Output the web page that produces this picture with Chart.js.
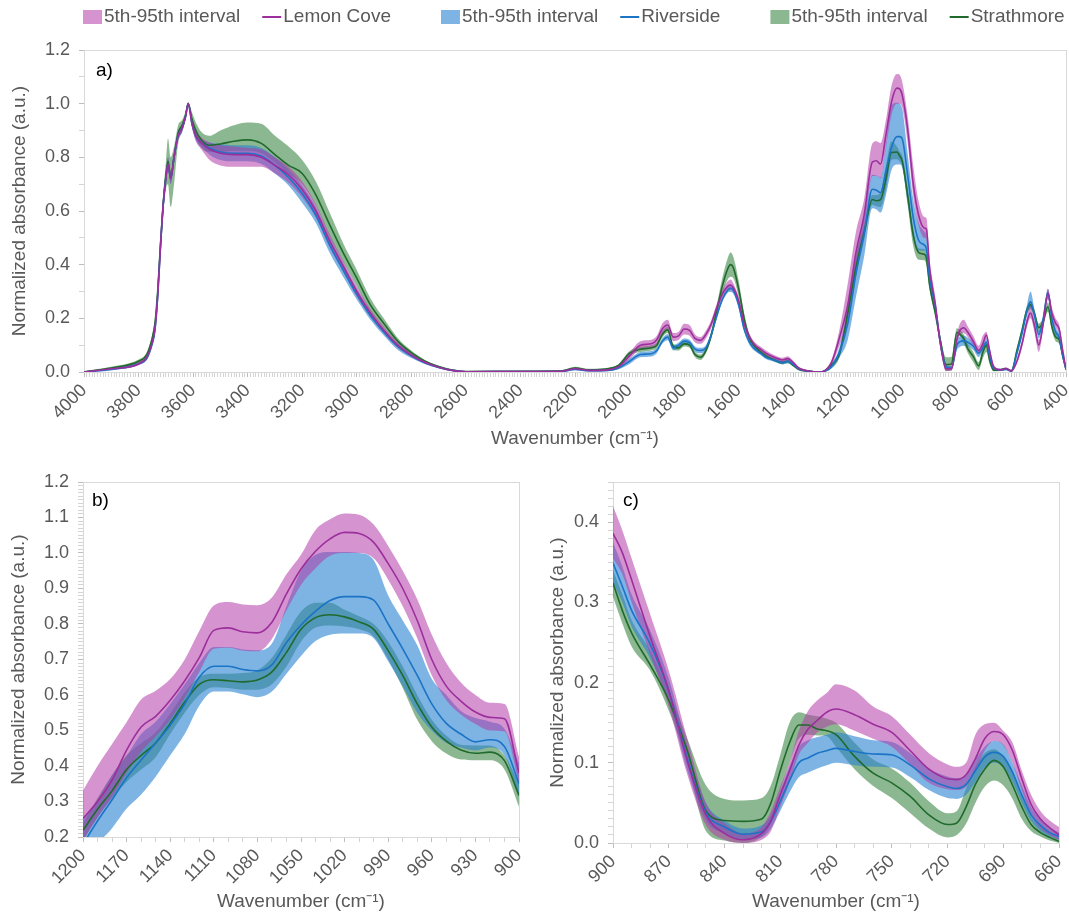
<!DOCTYPE html>
<html>
<head>
<meta charset="utf-8">
<title>FTIR spectra</title>
<script src="https://cdn.jsdelivr.net/npm/chart.js@4.4.1/dist/chart.umd.min.js"></script>
<style>
    body { margin: 0; background: #fff; }
    #page { position: relative; width: 1069px; height: 914px; overflow: hidden; background: #fff; }
    canvas { position: absolute; }
</style>
</head>
<body>
<div id="page">
    <canvas id="chartA" width="1069" height="455" style="left:0;top:0"></canvas>
    <canvas id="chartB" width="540" height="459" style="left:0;top:455px"></canvas>
    <canvas id="chartC" width="529" height="459" style="left:540px;top:455px"></canvas>
</div>
<script>
// Panel a) full spectrum 4000-400 cm-1
const wavenumberA = [4000, 3900, 3800, 3770, 3750, 3740, 3730, 3720, 3710, 3700,
    3692, 3682, 3670, 3655, 3640, 3628, 3618, 3605, 3590, 3570,
    3540, 3500, 3450, 3400, 3350, 3300, 3250, 3200, 3150, 3100,
    3050, 3000, 2950, 2900, 2850, 2800, 2750, 2700, 2650, 2600,
    2400, 2250, 2200, 2150, 2080, 2040, 2000, 1960, 1920, 1900,
    1880, 1860, 1840, 1820, 1800, 1780, 1760, 1740, 1720, 1700,
    1680, 1660, 1640, 1630, 1620, 1600, 1580, 1560, 1540, 1520,
    1500, 1470, 1440, 1420, 1400, 1380, 1350, 1300, 1260, 1230,
    1200, 1170, 1140, 1110, 1095, 1080, 1060, 1040, 1020, 1010,
    1000, 980, 960, 940, 920, 912, 900, 880, 860, 840,
    820, 800, 790, 775, 760, 740, 720, 705, 692, 680,
    665, 640, 620, 600, 580, 560, 545, 530, 515, 500,
    485, 466, 452, 438, 425, 412, 400];

const lemonCoveA = [0, 0.012, 0.03, 0.055, 0.11, 0.16, 0.28, 0.46, 0.62, 0.72,
    0.775, 0.72, 0.80, 0.88, 0.91, 0.95, 1.0, 0.93, 0.88, 0.855,
    0.83, 0.815, 0.81, 0.81, 0.80, 0.77, 0.735, 0.68, 0.60, 0.49,
    0.395, 0.30, 0.22, 0.155, 0.10, 0.063, 0.036, 0.018, 0.006, 0.001,
    0.002, 0.003, 0.012, 0.006, 0.008, 0.02, 0.06, 0.10, 0.105, 0.12,
    0.16, 0.175, 0.13, 0.135, 0.16, 0.155, 0.125, 0.118, 0.14, 0.18,
    0.24, 0.29, 0.32, 0.324, 0.315, 0.265, 0.18, 0.13, 0.10, 0.085,
    0.07, 0.055, 0.045, 0.05, 0.035, 0.015, 0.005, 0.0, 0.035, 0.13,
    0.25, 0.445, 0.585, 0.782, 0.787, 0.775, 0.885, 1.005, 1.058, 1.055,
    1.03, 0.90, 0.70, 0.583, 0.537, 0.533, 0.386, 0.257, 0.102, 0.012,
    0.012, 0.122, 0.153, 0.165, 0.148, 0.115, 0.08, 0.105, 0.138, 0.08,
    0.019, 0.008, 0.012, 0.004, 0.04, 0.11, 0.18, 0.22, 0.17, 0.10,
    0.17, 0.293, 0.22, 0.181, 0.16, 0.08, 0.01];
const lemonCoveLoA = [0, 0.008, 0.025, 0.048, 0.10, 0.145, 0.25, 0.43, 0.59, 0.70,
    0.75, 0.70, 0.78, 0.865, 0.895, 0.94, 0.995, 0.915, 0.86, 0.83,
    0.79, 0.77, 0.765, 0.765, 0.765, 0.74, 0.705, 0.65, 0.575, 0.465,
    0.375, 0.28, 0.205, 0.143, 0.09, 0.056, 0.031, 0.015, 0.004, 0,
    0, 0, 0.007, 0.002, 0.004, 0.013, 0.048, 0.085, 0.09, 0.105,
    0.14, 0.155, 0.115, 0.12, 0.14, 0.135, 0.11, 0.105, 0.125, 0.165,
    0.225, 0.275, 0.305, 0.305, 0.298, 0.25, 0.165, 0.118, 0.09, 0.075,
    0.06, 0.047, 0.037, 0.041, 0.028, 0.01, 0.002, 0, 0.025, 0.10,
    0.19, 0.38, 0.53, 0.73, 0.73, 0.723, 0.838, 0.957, 1.0, 1.0,
    0.985, 0.85, 0.655, 0.545, 0.50, 0.497, 0.355, 0.235, 0.085, 0.004,
    0.004, 0.11, 0.138, 0.145, 0.13, 0.098, 0.067, 0.09, 0.125, 0.065,
    0.01, 0.004, 0.008, 0, 0.03, 0.095, 0.16, 0.20, 0.145, 0.075,
    0.15, 0.27, 0.195, 0.165, 0.145, 0.065, 0.005];
const lemonCoveHiA = [0.003, 0.016, 0.036, 0.062, 0.12, 0.175, 0.31, 0.49, 0.65, 0.745,
    0.80, 0.745, 0.82, 0.895, 0.925, 0.96, 1.003, 0.945, 0.90, 0.875,
    0.855, 0.845, 0.84, 0.835, 0.83, 0.80, 0.765, 0.71, 0.625, 0.515,
    0.415, 0.32, 0.235, 0.168, 0.11, 0.07, 0.041, 0.021, 0.008, 0.002,
    0.004, 0.006, 0.017, 0.01, 0.012, 0.027, 0.072, 0.115, 0.12, 0.135,
    0.18, 0.195, 0.145, 0.15, 0.18, 0.175, 0.14, 0.13, 0.155, 0.195,
    0.255, 0.305, 0.338, 0.345, 0.332, 0.28, 0.195, 0.142, 0.11, 0.095,
    0.08, 0.063, 0.053, 0.059, 0.042, 0.02, 0.008, 0.002, 0.045, 0.16,
    0.331, 0.523, 0.645, 0.852, 0.86, 0.853, 0.94, 1.065, 1.111, 1.108,
    1.08, 0.95, 0.77, 0.635, 0.578, 0.575, 0.42, 0.285, 0.13, 0.025,
    0.02, 0.14, 0.178, 0.195, 0.17, 0.135, 0.098, 0.135, 0.15, 0.09,
    0.028, 0.012, 0.018, 0.008, 0.05, 0.125, 0.20, 0.245, 0.19, 0.12,
    0.19, 0.31, 0.24, 0.20, 0.175, 0.095, 0.015];

const riversideA = [0, 0.01, 0.03, 0.05, 0.105, 0.155, 0.28, 0.46, 0.62, 0.72,
    0.775, 0.72, 0.80, 0.88, 0.91, 0.95, 1.0, 0.93, 0.88, 0.855,
    0.835, 0.82, 0.815, 0.815, 0.805, 0.77, 0.725, 0.665, 0.585, 0.475,
    0.38, 0.29, 0.21, 0.148, 0.095, 0.06, 0.034, 0.017, 0.006, 0.001,
    0.002, 0.002, 0.01, 0.005, 0.006, 0.015, 0.04, 0.065, 0.068, 0.08,
    0.115, 0.13, 0.09, 0.10, 0.115, 0.11, 0.085, 0.08, 0.09, 0.14,
    0.21, 0.27, 0.305, 0.312, 0.305, 0.25, 0.16, 0.11, 0.085, 0.07,
    0.055, 0.045, 0.035, 0.04, 0.028, 0.012, 0.004, 0.0, 0.02, 0.075,
    0.18, 0.367, 0.515, 0.681, 0.677, 0.668, 0.748, 0.836, 0.877, 0.877,
    0.867, 0.73, 0.575, 0.49, 0.474, 0.46, 0.349, 0.248, 0.105, 0.02,
    0.014, 0.10, 0.112, 0.116, 0.111, 0.097, 0.07, 0.09, 0.111, 0.06,
    0.013, 0.008, 0.01, 0.004, 0.07, 0.15, 0.22, 0.262, 0.21, 0.14,
    0.19, 0.296, 0.20, 0.15, 0.13, 0.06, 0.01];
const riversideLoA = [0, 0.006, 0.027, 0.045, 0.095, 0.14, 0.25, 0.43, 0.59, 0.70,
    0.75, 0.70, 0.78, 0.865, 0.895, 0.94, 0.995, 0.915, 0.865, 0.84,
    0.81, 0.79, 0.785, 0.785, 0.775, 0.74, 0.695, 0.63, 0.555, 0.445,
    0.355, 0.27, 0.195, 0.135, 0.083, 0.052, 0.029, 0.014, 0.004, 0,
    0, 0, 0.006, 0.002, 0.003, 0.01, 0.03, 0.055, 0.058, 0.07,
    0.105, 0.118, 0.08, 0.09, 0.105, 0.10, 0.075, 0.07, 0.08, 0.13,
    0.20, 0.26, 0.295, 0.298, 0.292, 0.238, 0.15, 0.10, 0.077, 0.063,
    0.048, 0.038, 0.029, 0.033, 0.022, 0.008, 0.001, 0, 0.012, 0.055,
    0.12, 0.28, 0.43, 0.61, 0.606, 0.594, 0.66, 0.752, 0.773, 0.773,
    0.76, 0.625, 0.50, 0.452, 0.452, 0.435, 0.325, 0.23, 0.09, 0.012,
    0.007, 0.082, 0.093, 0.098, 0.095, 0.082, 0.056, 0.076, 0.098, 0.05,
    0.008, 0.004, 0.006, 0, 0.06, 0.135, 0.205, 0.24, 0.19, 0.125,
    0.175, 0.275, 0.18, 0.135, 0.115, 0.05, 0.005];
const riversideHiA = [0.003, 0.014, 0.037, 0.056, 0.115, 0.17, 0.31, 0.49, 0.65, 0.745,
    0.80, 0.745, 0.82, 0.895, 0.925, 0.96, 1.003, 0.945, 0.895, 0.87,
    0.855, 0.85, 0.845, 0.845, 0.835, 0.80, 0.755, 0.695, 0.615, 0.505,
    0.405, 0.31, 0.225, 0.16, 0.105, 0.068, 0.039, 0.02, 0.008, 0.002,
    0.004, 0.005, 0.014, 0.008, 0.009, 0.02, 0.05, 0.075, 0.078, 0.09,
    0.125, 0.142, 0.10, 0.11, 0.125, 0.12, 0.095, 0.09, 0.10, 0.15,
    0.22, 0.28, 0.318, 0.325, 0.318, 0.262, 0.17, 0.12, 0.093, 0.077,
    0.062, 0.052, 0.041, 0.047, 0.034, 0.016, 0.007, 0.002, 0.028, 0.095,
    0.247, 0.428, 0.575, 0.735, 0.732, 0.726, 0.85, 0.995, 1.003, 1.0,
    0.98, 0.81, 0.645, 0.555, 0.525, 0.51, 0.375, 0.265, 0.12, 0.028,
    0.022, 0.12, 0.132, 0.136, 0.128, 0.112, 0.083, 0.104, 0.125, 0.072,
    0.02, 0.012, 0.015, 0.007, 0.08, 0.165, 0.24, 0.30, 0.23, 0.155,
    0.205, 0.31, 0.215, 0.165, 0.145, 0.07, 0.015];

const strathmoreA = [0, 0.015, 0.04, 0.065, 0.125, 0.18, 0.30, 0.47, 0.62, 0.73,
    0.785, 0.725, 0.80, 0.89, 0.92, 0.955, 1.0, 0.945, 0.90, 0.865,
    0.845, 0.85, 0.86, 0.865, 0.852, 0.81, 0.77, 0.74, 0.66, 0.55,
    0.445, 0.35, 0.25, 0.18, 0.115, 0.072, 0.04, 0.02, 0.007, 0.002,
    0.003, 0.004, 0.015, 0.008, 0.012, 0.025, 0.07, 0.085, 0.09, 0.10,
    0.14, 0.157, 0.095, 0.09, 0.105, 0.10, 0.065, 0.055, 0.08, 0.14,
    0.23, 0.32, 0.385, 0.40, 0.39, 0.31, 0.20, 0.125, 0.095, 0.075,
    0.06, 0.045, 0.035, 0.04, 0.025, 0.01, 0.004, 0.0, 0.025, 0.07,
    0.22, 0.39, 0.52, 0.643, 0.638, 0.642, 0.72, 0.818, 0.82, 0.806,
    0.785, 0.655, 0.51, 0.445, 0.439, 0.425, 0.324, 0.222, 0.115, 0.028,
    0.03, 0.147, 0.142, 0.125, 0.087, 0.058, 0.023, 0.073, 0.10, 0.045,
    0.007, 0.008, 0.012, 0.004, 0.08, 0.16, 0.225, 0.25, 0.215, 0.165,
    0.185, 0.243, 0.17, 0.13, 0.12, 0.06, 0.01];
const strathmoreLoA = [0, 0.01, 0.033, 0.057, 0.11, 0.16, 0.27, 0.44, 0.58, 0.68,
    0.70, 0.615, 0.70, 0.85, 0.895, 0.94, 0.99, 0.925, 0.87, 0.835,
    0.82, 0.82, 0.825, 0.825, 0.815, 0.78, 0.74, 0.70, 0.62, 0.505,
    0.41, 0.32, 0.225, 0.162, 0.103, 0.064, 0.035, 0.017, 0.005, 0.001,
    0, 0.001, 0.01, 0.004, 0.008, 0.02, 0.062, 0.075, 0.08, 0.09,
    0.128, 0.145, 0.085, 0.08, 0.095, 0.09, 0.055, 0.045, 0.07, 0.125,
    0.21, 0.29, 0.345, 0.355, 0.35, 0.28, 0.18, 0.112, 0.085, 0.067,
    0.053, 0.039, 0.029, 0.033, 0.02, 0.006, 0.001, 0, 0.015, 0.055,
    0.19, 0.355, 0.49, 0.622, 0.618, 0.615, 0.68, 0.79, 0.793, 0.785,
    0.765, 0.62, 0.47, 0.418, 0.416, 0.40, 0.307, 0.215, 0.10, 0.003,
    0.008, 0.13, 0.134, 0.105, 0.071, 0.037, 0.007, 0.05, 0.075, 0.03,
    0.003, 0.004, 0.008, 0, 0.07, 0.145, 0.21, 0.235, 0.20, 0.15,
    0.17, 0.225, 0.155, 0.115, 0.105, 0.05, 0.005];
const strathmoreHiA = [0.004, 0.02, 0.047, 0.073, 0.14, 0.20, 0.33, 0.50, 0.66, 0.78,
    0.87, 0.80, 0.84, 0.92, 0.94, 0.97, 1.005, 0.97, 0.93, 0.895,
    0.88, 0.90, 0.92, 0.93, 0.925, 0.88, 0.84, 0.79, 0.71, 0.595,
    0.48, 0.38, 0.275, 0.198, 0.127, 0.08, 0.045, 0.023, 0.009, 0.003,
    0.005, 0.007, 0.02, 0.012, 0.016, 0.03, 0.078, 0.095, 0.10, 0.11,
    0.152, 0.17, 0.105, 0.10, 0.115, 0.11, 0.075, 0.065, 0.09, 0.155,
    0.25, 0.35, 0.425, 0.445, 0.43, 0.34, 0.22, 0.138, 0.105, 0.083,
    0.067, 0.051, 0.041, 0.047, 0.03, 0.014, 0.007, 0.002, 0.035, 0.085,
    0.238, 0.43, 0.548, 0.66, 0.66, 0.67, 0.77, 0.86, 0.84, 0.822,
    0.805, 0.68, 0.53, 0.46, 0.458, 0.44, 0.34, 0.24, 0.13, 0.055,
    0.056, 0.163, 0.158, 0.14, 0.104, 0.075, 0.037, 0.095, 0.115, 0.058,
    0.012, 0.012, 0.017, 0.008, 0.09, 0.175, 0.24, 0.265, 0.23, 0.18,
    0.20, 0.26, 0.185, 0.145, 0.135, 0.07, 0.015];

// Panel b) 1200-900 cm-1
const wavenumberB = [1200, 1190, 1180, 1170, 1160, 1150, 1140, 1130, 1120, 1110,
    1100, 1090, 1080, 1070, 1060, 1050, 1040, 1030, 1020, 1010,
    1000, 990, 980, 970, 960, 950, 940, 930, 920, 910, 900];
const lemonCoveB = [0.252, 0.30, 0.36, 0.445, 0.51, 0.54, 0.585, 0.64, 0.705, 0.782,
    0.789, 0.778, 0.775, 0.805, 0.885, 0.955, 1.005, 1.04, 1.058, 1.055,
    1.03, 0.97, 0.90, 0.81, 0.70, 0.625, 0.583, 0.552, 0.537, 0.533, 0.38];
const lemonCoveLoB = [0.19, 0.255, 0.313, 0.38, 0.44, 0.483, 0.53, 0.592, 0.665, 0.73,
    0.733, 0.725, 0.723, 0.758, 0.838, 0.91, 0.957, 0.992, 1.0, 1.0,
    0.985, 0.925, 0.85, 0.76, 0.655, 0.585, 0.545, 0.518, 0.50, 0.497, 0.35];
const lemonCoveHiB = [0.331, 0.40, 0.462, 0.523, 0.587, 0.612, 0.645, 0.70, 0.78, 0.852,
    0.862, 0.855, 0.853, 0.875, 0.94, 0.995, 1.065, 1.095, 1.111, 1.108,
    1.08, 1.02, 0.95, 0.87, 0.77, 0.69, 0.635, 0.60, 0.578, 0.575, 0.425];
const riversideB = [0.18, 0.245, 0.305, 0.367, 0.417, 0.465, 0.515, 0.575, 0.65, 0.681,
    0.681, 0.672, 0.668, 0.685, 0.748, 0.797, 0.836, 0.866, 0.877, 0.877,
    0.867, 0.80, 0.73, 0.655, 0.575, 0.52, 0.49, 0.468, 0.474, 0.455, 0.35];
const riversideLoB = [0.12, 0.18, 0.225, 0.28, 0.32, 0.37, 0.43, 0.49, 0.57, 0.61,
    0.61, 0.602, 0.594, 0.61, 0.66, 0.71, 0.752, 0.77, 0.773, 0.773,
    0.76, 0.695, 0.625, 0.55, 0.50, 0.465, 0.452, 0.444, 0.452, 0.43, 0.313];
const riversideHiB = [0.247, 0.305, 0.375, 0.428, 0.49, 0.525, 0.575, 0.63, 0.69, 0.735,
    0.735, 0.728, 0.726, 0.745, 0.85, 0.95, 0.995, 1.003, 1.003, 1.0,
    0.98, 0.88, 0.81, 0.74, 0.645, 0.60, 0.555, 0.535, 0.525, 0.505, 0.407];
const strathmoreB = [0.219, 0.278, 0.33, 0.39, 0.43, 0.465, 0.52, 0.58, 0.63, 0.643,
    0.64, 0.637, 0.642, 0.665, 0.72, 0.785, 0.818, 0.826, 0.82, 0.806,
    0.785, 0.725, 0.655, 0.575, 0.51, 0.47, 0.445, 0.436, 0.439, 0.415, 0.317];
const strathmoreLoB = [0.19, 0.255, 0.31, 0.355, 0.39, 0.425, 0.49, 0.55, 0.60, 0.622,
    0.62, 0.615, 0.615, 0.63, 0.68, 0.75, 0.79, 0.796, 0.793, 0.785,
    0.765, 0.70, 0.62, 0.53, 0.47, 0.435, 0.418, 0.416, 0.416, 0.39, 0.285];
const strathmoreHiB = [0.238, 0.31, 0.375, 0.43, 0.464, 0.495, 0.548, 0.608, 0.65, 0.66,
    0.66, 0.662, 0.67, 0.705, 0.77, 0.835, 0.86, 0.86, 0.84, 0.822,
    0.80, 0.75, 0.68, 0.60, 0.53, 0.485, 0.46, 0.458, 0.458, 0.43, 0.35];

// Panel c) 900-660 cm-1
const wavenumberC = [900, 895, 890, 880, 870, 860, 850, 840, 830, 820,
    815, 810, 805, 800, 795, 790, 785, 780, 770, 760,
    750, 740, 730, 720, 715, 710, 705, 700, 695, 690,
    685, 680, 675, 670, 665, 660];
const lemonCoveC = [0.386, 0.362, 0.328, 0.257, 0.19, 0.102, 0.035, 0.012, 0.004, 0.012,
    0.028, 0.06, 0.09, 0.122, 0.142, 0.153, 0.163, 0.167, 0.16, 0.148,
    0.138, 0.115, 0.092, 0.08, 0.079, 0.085, 0.105, 0.13, 0.139, 0.135,
    0.115, 0.08, 0.048, 0.03, 0.019, 0.01];
const lemonCoveLoC = [0.355, 0.335, 0.30, 0.235, 0.17, 0.085, 0.022, 0.004, 0.0, 0.004,
    0.015, 0.045, 0.075, 0.11, 0.125, 0.138, 0.145, 0.148, 0.14, 0.13,
    0.12, 0.098, 0.075, 0.067, 0.066, 0.07, 0.09, 0.115, 0.127, 0.122,
    0.10, 0.065, 0.035, 0.018, 0.01, 0.004];
const lemonCoveHiC = [0.42, 0.39, 0.355, 0.285, 0.215, 0.13, 0.05, 0.025, 0.012, 0.02,
    0.04, 0.07, 0.1, 0.14, 0.165, 0.178, 0.187, 0.198, 0.19, 0.17,
    0.158, 0.135, 0.112, 0.098, 0.095, 0.10, 0.135, 0.148, 0.15, 0.14,
    0.125, 0.09, 0.06, 0.04, 0.028, 0.02];
const riversideC = [0.349, 0.32, 0.29, 0.248, 0.19, 0.105, 0.038, 0.02, 0.011, 0.014,
    0.027, 0.052, 0.078, 0.10, 0.106, 0.112, 0.115, 0.118, 0.114, 0.111,
    0.11, 0.097, 0.08, 0.07, 0.068, 0.073, 0.09, 0.107, 0.113, 0.108,
    0.088, 0.06, 0.035, 0.022, 0.013, 0.008];
const riversideLoC = [0.325, 0.30, 0.27, 0.23, 0.175, 0.09, 0.028, 0.012, 0.005, 0.007,
    0.018, 0.04, 0.063, 0.082, 0.088, 0.093, 0.097, 0.10, 0.097, 0.095,
    0.094, 0.082, 0.066, 0.056, 0.055, 0.06, 0.076, 0.094, 0.10, 0.095,
    0.076, 0.05, 0.027, 0.015, 0.008, 0.004];
const riversideHiC = [0.375, 0.345, 0.31, 0.265, 0.205, 0.12, 0.05, 0.028, 0.018, 0.022,
    0.035, 0.065, 0.095, 0.12, 0.128, 0.132, 0.135, 0.138, 0.133, 0.128,
    0.126, 0.112, 0.093, 0.083, 0.081, 0.085, 0.104, 0.12, 0.127, 0.123,
    0.10, 0.072, 0.045, 0.03, 0.02, 0.013];
const strathmoreC = [0.324, 0.29, 0.262, 0.222, 0.178, 0.115, 0.04, 0.028, 0.027, 0.03,
    0.05, 0.09, 0.125, 0.147, 0.147, 0.142, 0.14, 0.135, 0.108, 0.087,
    0.075, 0.058, 0.035, 0.023, 0.025, 0.045, 0.073, 0.092, 0.103, 0.095,
    0.072, 0.045, 0.023, 0.013, 0.007, 0.002];
const strathmoreLoC = [0.307, 0.274, 0.245, 0.215, 0.165, 0.10, 0.015, 0.003, 0.0, 0.008,
    0.025, 0.065, 0.10, 0.13, 0.135, 0.134, 0.133, 0.12, 0.092, 0.071,
    0.056, 0.037, 0.018, 0.007, 0.01, 0.024, 0.05, 0.07, 0.078, 0.072,
    0.055, 0.03, 0.015, 0.008, 0.003, 0.0];
const strathmoreHiC = [0.34, 0.31, 0.278, 0.24, 0.19, 0.13, 0.072, 0.055, 0.053, 0.056,
    0.072, 0.11, 0.15, 0.163, 0.16, 0.158, 0.155, 0.15, 0.125, 0.104,
    0.093, 0.075, 0.052, 0.037, 0.04, 0.068, 0.095, 0.112, 0.117, 0.108,
    0.09, 0.058, 0.033, 0.02, 0.012, 0.006];

const siteNames = ['Lemon Cove', 'Riverside', 'Strathmore'];
const lineColors = ['#9c2f9c', '#1b74c5', '#1f6a2c'];
const bandColors = ['rgba(178, 60, 170, 0.55)', 'rgba(40, 130, 210, 0.6)', 'rgba(45, 125, 55, 0.55)'];

Chart.defaults.font.family = '"Liberation Sans", Arial, sans-serif';
Chart.defaults.color = '#595959';

function toPoints(xs, ys) {
    return ys.map((y, i) => ({ x: xs[i], y: y }));
}

// per site: band upper (filled down to the next dataset), band lower, mean line
function makeDatasets(xs, groups) {
    const out = [];
    groups.forEach((g, i) => {
        out.push({ label: '5th-95th interval', data: toPoints(xs, g.hi), backgroundColor: bandColors[i],
            borderColor: 'transparent', borderWidth: 0, fill: '+1', order: 1, isBand: true, inLegend: true });
        out.push({ label: '', data: toPoints(xs, g.lo), borderColor: 'transparent', borderWidth: 0,
            fill: false, order: 1 });
        out.push({ label: siteNames[i], data: toPoints(xs, g.mean), borderColor: lineColors[i],
            borderWidth: 1.6, fill: false, order: 0, inLegend: true });
    });
    return out;
}

function makeScales(c) {
    return {
        x: {
            type: 'linear', reverse: true, min: c.xMin, max: c.xMax,
            border: { color: '#d9d9d9' },
            grid: {
                drawOnChartArea: false, tickLength: 5,
                color: ctx => (ctx.tick && Math.round(ctx.tick.value) % c.xMajor === 0) ? '#bdbdbd' : '#d4d4d4'
            },
            ticks: {
                stepSize: 10, autoSkip: false, maxRotation: 45, minRotation: 45, padding: 3,
                font: { size: 18 },
                callback: v => (Math.round(v) % c.xMajor === 0 ? String(Math.round(v)) : '')
            },
            title: { display: true, text: 'Wavenumber (cm⁻¹)', font: { size: 19 }, padding: { top: 0, bottom: c.xTitlePad } },
            afterFit: s => { s.height = c.xHeight; s.paddingLeft = 0; s.paddingRight = 0; }
        },
        y: {
            min: c.yMin, max: c.yMax,
            border: { color: '#d9d9d9' },
            grid: {
                drawOnChartArea: false, tickLength: 5,
                color: ctx => (ctx.tick && Math.round(ctx.tick.value / c.yStep) % c.yEvery === 0) ? '#bdbdbd' : '#d4d4d4'
            },
            ticks: {
                stepSize: c.yStep, autoSkip: false, padding: 9,
                font: { size: 18 },
                callback: v => (Math.round(v / c.yStep) % c.yEvery === 0 ? v.toFixed(1) : '')
            },
            title: { display: true, text: 'Normalized absorbance (a.u.)', font: { size: 19 }, padding: { top: c.yTitlePad, bottom: 0 } },
            afterFit: s => { s.width = c.yWidth; s.paddingTop = 0; s.paddingBottom = 0; }
        }
    };
}

// light frame round the plot area and the panel letter
const framePlugin = {
    id: 'frame',
    beforeDatasetsDraw(chart) {
        const { ctx, chartArea: a } = chart;
        ctx.save();
        ctx.strokeStyle = '#d9d9d9';
        ctx.lineWidth = 1;
        ctx.strokeRect(Math.round(a.left) + 0.5, Math.round(a.top) + 0.5, Math.round(a.right - a.left), Math.round(a.bottom - a.top));
        ctx.restore();
    },
    afterDraw(chart, args, opts) {
        const { ctx, chartArea: a } = chart;
        ctx.save();
        ctx.fillStyle = '#000';
        ctx.font = '19px "Liberation Sans", Arial, sans-serif';
        ctx.textBaseline = 'middle';
        ctx.fillText(opts.text, a.left + opts.dx, a.top + opts.dy);
        ctx.restore();
    }
};

// single row legend across the top of the page
const rowLegend = {
    id: 'rowLegend',
    afterDraw(chart, args, opts) {
        const ctx = chart.ctx;
        ctx.save();
        ctx.font = '19px "Liberation Sans", Arial, sans-serif';
        ctx.textBaseline = 'middle';
        let x = opts.left;
        chart.data.datasets.forEach(ds => {
            if (!ds.inLegend) return;
            if (ds.isBand) {
                ctx.fillStyle = ds.backgroundColor;
                ctx.fillRect(x, opts.y - 7, 19, 14);
            } else {
                ctx.strokeStyle = ds.borderColor;
                ctx.lineWidth = 2;
                ctx.beginPath();
                ctx.moveTo(x, opts.y);
                ctx.lineTo(x + 19, opts.y);
                ctx.stroke();
            }
            ctx.fillStyle = '#595959';
            ctx.fillText(ds.label, x + 21, opts.y);
            x += 21 + ctx.measureText(ds.label).width + (ds.isBand ? opts.gapIn : opts.gapOut);
        });
        ctx.restore();
    }
};

function makeChart(id, xs, groups, scaleCfg, padding, panel, extra) {
    const plugins = [framePlugin];
    if (extra) plugins.push(rowLegend);
    return new Chart(document.getElementById(id), {
        type: 'line',
        data: { datasets: makeDatasets(xs, groups) },
        options: {
            responsive: false,
            animation: false,
            devicePixelRatio: 1,
            layout: { padding: padding },
            elements: {
                point: { radius: 0, hoverRadius: 0 },
                line: { cubicInterpolationMode: 'monotone' }
            },
            scales: makeScales(scaleCfg),
            plugins: {
                legend: { display: false },
                tooltip: { enabled: false },
                frame: panel,
                rowLegend: extra || {}
            }
        },
        plugins: plugins
    });
}

makeChart('chartA', wavenumberA, [
    { mean: lemonCoveA, lo: lemonCoveLoA, hi: lemonCoveHiA },
    { mean: riversideA, lo: riversideLoA, hi: riversideHiA },
    { mean: strathmoreA, lo: strathmoreLoA, hi: strathmoreHiA }
], { xMin: 400, xMax: 4000, xMajor: 200, yMin: 0, yMax: 1.2, yStep: 0.1, yEvery: 2,
     xHeight: 83, yWidth: 84, xTitlePad: 5, yTitlePad: 8 },
   { top: 50, right: 3, left: 0, bottom: 0 },
   { text: 'a)', dx: 12, dy: 21 },
   { left: 83, y: 17, gapIn: 22, gapOut: 50 });

makeChart('chartB', wavenumberB, [
    { mean: lemonCoveB, lo: lemonCoveLoB, hi: lemonCoveHiB },
    { mean: riversideB, lo: riversideLoB, hi: riversideHiB },
    { mean: strathmoreB, lo: strathmoreLoB, hi: strathmoreHiB }
], { xMin: 900, xMax: 1200, xMajor: 30, yMin: 0.2, yMax: 1.2, yStep: 0.01, yEvery: 10,
     xHeight: 77, yWidth: 83, xTitlePad: 1, yTitlePad: 7 },
   { top: 27, right: 21, left: 0, bottom: 0 },
   { text: 'b)', dx: 9, dy: 19 });

makeChart('chartC', wavenumberC, [
    { mean: lemonCoveC, lo: lemonCoveLoC, hi: lemonCoveHiC },
    { mean: riversideC, lo: riversideLoC, hi: riversideHiC },
    { mean: strathmoreC, lo: strathmoreLoC, hi: strathmoreHiC }
], { xMin: 660, xMax: 900, xMajor: 30, yMin: 0, yMax: 0.45, yStep: 0.01, yEvery: 10,
     xHeight: 71, yWidth: 73, xTitlePad: 1, yTitlePad: 6 },
   { top: 27, right: 10, left: 0, bottom: 0 },
   { text: 'c)', dx: 10, dy: 19 });
</script>
</body>
</html>
